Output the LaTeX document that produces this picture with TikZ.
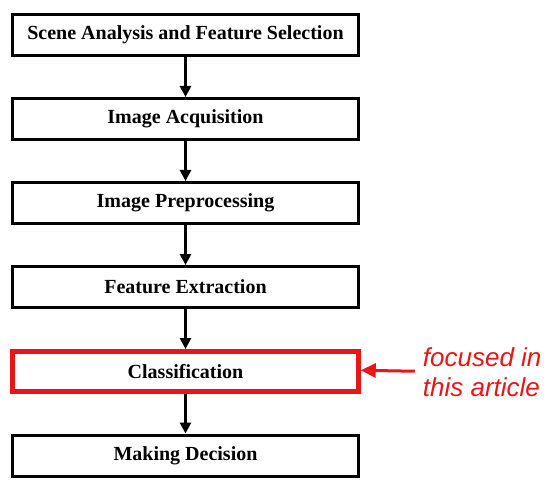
\documentclass[tikz,border=0pt]{standalone}
\usepackage{fontspec}
\setmainfont{Liberation Serif}
\newfontfamily\notefont{Liberation Sans}
\usetikzlibrary{arrows.meta,positioning}
\definecolor{focusred}{RGB}{232,22,22}

\begin{document}
\begin{tikzpicture}[
    node distance=40pt,
    stage/.style={draw, line width=3pt, minimum width=346pt, minimum height=41pt, inner sep=0pt, font=\fontsize{20}{22}\selectfont\bfseries},
    focus/.style={stage, draw=focusred, line width=4.5pt, minimum height=40pt},
    arrow/.style={-{Triangle[length=11pt, width=11pt]}, line width=3pt},
    focusarrow/.style={-{Triangle[length=15pt, width=14pt]}, line width=3pt, draw=focusred, fill=focusred}
]
\useasboundingbox (0,0) rectangle (552pt,-484pt);

\node[stage] (S1) at (185.5pt,-35pt) {Scene Analysis and Feature Selection};
\node[stage] (S2) [below=of S1] {Image Acquisition};
\node[stage] (S3) [below=of S2] {Image Preprocessing};
\node[stage] (S4) [below=of S3] {Feature Extraction};
\node[focus] (S5) [below=of S4] {Classification};
\node[stage] (S6) [below=of S5] {Making Decision};

\node (note) [anchor=west, inner sep=0pt, align=left, text=focusred,
    font=\notefont\itshape\fontsize{26}{30}\selectfont] at ([xshift=62pt,yshift=-1pt]S5.east) {focused in\\this article};

\draw[arrow] (S1) -- (S2);
\draw[arrow] (S2) -- (S3);
\draw[arrow] (S3) -- (S4);
\draw[arrow] (S4) -- (S5);
\draw[arrow] (S5) -- (S6);
\draw[focusarrow] ([xshift=-8pt,yshift=1pt]note.west) -- ([yshift=1pt]S5.east);
\end{tikzpicture}
\end{document}
